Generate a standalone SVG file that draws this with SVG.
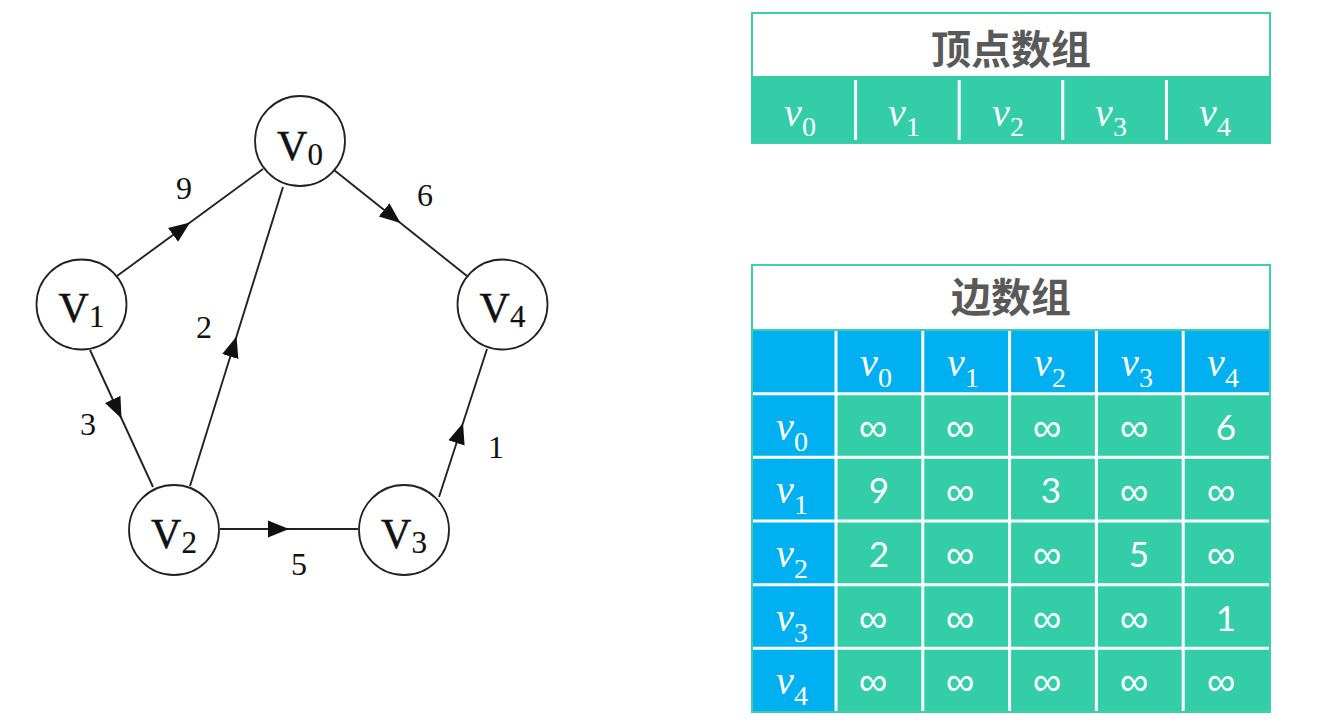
<svg xmlns="http://www.w3.org/2000/svg" width="1330" height="724" viewBox="0 0 1330 724">
<style>
.node circle{fill:#fff;stroke:#222;stroke-width:1.8}
.vl{font-family:"Liberation Serif",serif;font-size:42px;fill:#111;stroke:#111;stroke-width:0.5}
.vl tspan{font-size:31px;stroke-width:0.2}
.edge{fill:none;stroke:#222;stroke-width:1.9;marker-mid:url(#arr)}
.wl{font-family:"Liberation Serif",serif;font-size:32px;fill:#111;text-anchor:middle}
.title{font-family:"Noto Sans CJK SC","Noto Sans",sans-serif;font-weight:bold;font-size:40px;fill:#595959;text-anchor:middle}
.nu{font-family:"Liberation Serif",serif;font-style:italic;font-size:40px;fill:#fff;text-anchor:middle}
.nu tspan{font-style:normal;font-size:28px}
.val{font-family:"Lato","Noto Sans",sans-serif;font-size:35px;fill:#fff;text-anchor:middle}
.val .inf{font-family:"DejaVu Sans","Noto Sans",sans-serif;font-size:40px;font-weight:300}
.teal{fill:#33CDA8}
.blue{fill:#00B0F0}
.grid{stroke:#fff;stroke-width:3}
</style>
<defs>
<marker id="arr" markerUnits="userSpaceOnUse" markerWidth="22" markerHeight="20" viewBox="0 0 22 20" refX="21" refY="10" orient="auto">
<path d="M0,1.5 L21,10 L0,18.5 z" fill="#111"/>
</marker>
</defs>
<rect width="1330" height="724" fill="#fff"/>

<g id="connectors">
<path class="edge" d="M117,276 L190,222.5 L263,169"/>
<path class="edge" d="M334,170 L400.5,223 L467,276"/>
<path class="edge" d="M190,486 L236.5,336.5 L283,187"/>
<path class="edge" d="M90,350 L121.5,418.5 L153,487"/>
<path class="edge" d="M220,529 L289,529 L358,529"/>
<path class="edge" d="M439,497 L463,423 L487,349"/>
<text class="wl" x="184" y="199">9</text>
<text class="wl" x="425" y="206">6</text>
<text class="wl" x="204" y="338">2</text>
<text class="wl" x="88" y="435">3</text>
<text class="wl" x="299" y="575">5</text>
<text class="wl" x="496" y="458">1</text>
</g>

<g id="node-v0" class="node"><circle cx="300" cy="141" r="45"/><text class="vl" x="300" y="160" text-anchor="middle">V<tspan dy="5">0</tspan></text></g>
<g id="node-v1" class="node"><circle cx="81.5" cy="304.5" r="45"/><text class="vl" x="81.5" y="322" text-anchor="middle">V<tspan dy="5">1</tspan></text></g>
<g id="node-v4" class="node"><circle cx="502.5" cy="304.5" r="45"/><text class="vl" x="502.5" y="322" text-anchor="middle">V<tspan dy="5">4</tspan></text></g>
<g id="node-v2" class="node"><circle cx="174" cy="530" r="45"/><text class="vl" x="174" y="548" text-anchor="middle">V<tspan dy="5">2</tspan></text></g>
<g id="node-v3" class="node"><circle cx="404" cy="530" r="45"/><text class="vl" x="404" y="548" text-anchor="middle">V<tspan dy="5">3</tspan></text></g>

<g id="vertex-array">
<rect x="752" y="13" width="518" height="130" fill="#fff" stroke="#3CCFAB" stroke-width="2"/>
<rect class="teal" x="752" y="76" width="518" height="67"/>
<text class="title" x="1011" y="64">顶点数组</text>
<g class="grid">
<line x1="855.6" y1="80" x2="855.6" y2="140"/>
<line x1="959.2" y1="80" x2="959.2" y2="140"/>
<line x1="1062.8" y1="80" x2="1062.8" y2="140"/>
<line x1="1166.4" y1="80" x2="1166.4" y2="140"/>
</g>
<text class="nu" x="800" y="126">ν<tspan dy="10">0</tspan></text>
<text class="nu" x="904" y="126">ν<tspan dy="10">1</tspan></text>
<text class="nu" x="1008" y="126">ν<tspan dy="10">2</tspan></text>
<text class="nu" x="1111" y="126">ν<tspan dy="10">3</tspan></text>
<text class="nu" x="1215" y="126">ν<tspan dy="10">4</tspan></text>
</g>

<g id="edge-array">
<rect x="752" y="265" width="518" height="447" fill="#fff" stroke="#3CCFAB" stroke-width="2"/>
<text class="title" x="1011" y="312">边数组</text>
<rect class="blue" x="752" y="330" width="518" height="63.7"/>
<rect class="blue" x="752" y="393.7" width="84" height="318.3"/>
<rect class="teal" x="836" y="393.7" width="434" height="318.3"/>
<g class="grid">
<line x1="836" y1="330" x2="836" y2="712"/>
<line x1="922.8" y1="330" x2="922.8" y2="712"/>
<line x1="1009.6" y1="330" x2="1009.6" y2="712"/>
<line x1="1096.4" y1="330" x2="1096.4" y2="712"/>
<line x1="1183.2" y1="330" x2="1183.2" y2="712"/>
<line x1="752" y1="393.7" x2="1270" y2="393.7"/>
<line x1="752" y1="457.3" x2="1270" y2="457.3"/>
<line x1="752" y1="521" x2="1270" y2="521"/>
<line x1="752" y1="584.7" x2="1270" y2="584.7"/>
<line x1="752" y1="648.3" x2="1270" y2="648.3"/>
</g>
<rect x="752" y="330" width="518" height="382" fill="none" stroke="#3CCFAB" stroke-width="2"/>
<text class="nu" x="876" y="376">ν<tspan dy="11">0</tspan></text>
<text class="nu" x="963" y="376">ν<tspan dy="11">1</tspan></text>
<text class="nu" x="1050" y="376">ν<tspan dy="11">2</tspan></text>
<text class="nu" x="1137" y="376">ν<tspan dy="11">3</tspan></text>
<text class="nu" x="1223" y="376">ν<tspan dy="11">4</tspan></text>
<text class="nu" x="792" y="440">ν<tspan dy="11">0</tspan></text>
<text class="nu" x="792" y="503">ν<tspan dy="11">1</tspan></text>
<text class="nu" x="792" y="567">ν<tspan dy="11">2</tspan></text>
<text class="nu" x="792" y="631">ν<tspan dy="11">3</tspan></text>
<text class="nu" x="792" y="694">ν<tspan dy="11">4</tspan></text>
<g class="val">
<text class="inf" x="873" y="441">∞</text><text class="inf" x="960" y="441">∞</text><text class="inf" x="1047" y="441">∞</text><text class="inf" x="1134" y="441">∞</text><text x="1226" y="440">6</text>
<text x="879" y="503">9</text><text class="inf" x="960" y="505">∞</text><text x="1051" y="503">3</text><text class="inf" x="1134" y="505">∞</text><text class="inf" x="1221" y="505">∞</text>
<text x="879" y="567">2</text><text class="inf" x="960" y="568">∞</text><text class="inf" x="1047" y="568">∞</text><text x="1139" y="567">5</text><text class="inf" x="1221" y="568">∞</text>
<text class="inf" x="873" y="632">∞</text><text class="inf" x="960" y="632">∞</text><text class="inf" x="1047" y="632">∞</text><text class="inf" x="1134" y="632">∞</text><text x="1226" y="631">1</text>
<text class="inf" x="873" y="695">∞</text><text class="inf" x="960" y="695">∞</text><text class="inf" x="1047" y="695">∞</text><text class="inf" x="1134" y="695">∞</text><text class="inf" x="1221" y="695">∞</text>
</g>
</g>
</svg>
